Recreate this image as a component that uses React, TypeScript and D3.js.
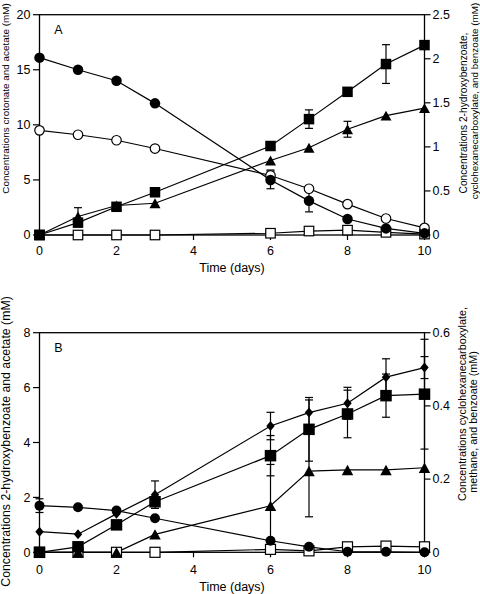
import React from "react";
import * as d3 from "d3";

// ---------- data ----------
const days = [0, 1, 2, 3, 6, 7, 8, 9, 10];
const xTicks = [0, 2, 4, 6, 8, 10];

// Panel A
const aCrotonate = [16.1, 15.0, 14.0, 11.95, 5.0, 3.1, 1.45, 0.6, 0.15];
const aCrotonateErr = [0, 0, 0, 0, 0.8, 1.0, 0, 0, 0];
const aAcetate = [9.5, 9.1, 8.6, 7.85, 5.4, 4.2, 2.8, 1.5, 0.65];
const aAcetateErr = [0, 0, 0, 0, 0.5, 0, 0, 0, 0];
const aHydroxybenzoate = [0, 0.14, 0.32, 0.485, 1.01, 1.315, 1.625, 1.94, 2.155];
const aHydroxybenzoateErr = [0, 0, 0, 0, 0, 0.105, 0, 0.22, 0];
const aCyclohexane = [0, 0.21, 0.335, 0.36, 0.845, 0.99, 1.2, 1.355, 1.44];
const aCyclohexaneErr = [0, 0.1, 0, 0, 0, 0, 0.09, 0, 0];
const aBenzoate = [0, 0, 0, 0, 0.02, 0.045, 0.055, 0.03, 0.01];

const aLeftTicks = [0, 5, 10, 15, 20];
const aRightTicks = [0, 0.5, 1, 1.5, 2, 2.5];

// Panel B
const bCircle = [1.7, 1.64, 1.52, 1.24, 0.42, 0.2, 0.02, 0.02, 0];
const bCircleErr = [0.25, 0, 0, 0, 0, 0, 0, 0, 0];
const bDiamond = [0.75, 0.66, 1.4, 2.1, 4.6, 5.09, 5.43, 6.38, 6.73];
const bDiamondErr = [0, 0, 0, 0.5, 0.5, 0.46, 0.58, 0.67, 0.4];
const bSquare = [0, 0.015, 0.075, 0.138, 0.264, 0.336, 0.378, 0.428, 0.432];
const bSquareErr = [0, 0, 0, 0, 0.055, 0.087, 0.065, 0.059, 0.15];
const bTriangle = [0, 0, 0, 0.049, 0.127, 0.222, 0.225, 0.225, 0.231];
const bTriangleErr = [0, 0, 0, 0, 0.113, 0.125, 0, 0, 0];
const bOpenSquare = [0, 0, 0, 0, 0.008, 0.004, 0.015, 0.017, 0.015];

const bLeftTicks = [0, 2, 4, 6, 8];
const bRightTicks = [0, 0.2, 0.4, 0.6];

const FONT = "'Liberation Sans', Arial, Helvetica, sans-serif";

type Marker = "circle" | "ocircle" | "square" | "osquare" | "triangle" | "diamond";

interface Series {
  values: number[];
  err?: number[];
  axis: "left" | "right";
  marker: Marker;
  size: number;
}

interface Title {
  text: string;
  x: number;
  y: number;
  size: number;
}

function markerEl(m: Marker, size: number, x: number, y: number, key: string) {
  const sw = 1.2;
  switch (m) {
    case "circle":
      return <circle key={key} cx={x} cy={y} r={size / 2} fill="#000" />;
    case "ocircle":
      return <circle key={key} cx={x} cy={y} r={size / 2} fill="#fff" stroke="#000" strokeWidth={sw} />;
    case "square":
      return <rect key={key} x={x - size / 2} y={y - size / 2} width={size} height={size} fill="#000" />;
    case "osquare":
      return (
        <rect key={key} x={x - size / 2} y={y - size / 2} width={size} height={size}
          fill="#fff" stroke="#000" strokeWidth={sw} />
      );
    case "triangle": {
      const hw = size / 2;
      const hh = size * 0.45;
      return <path key={key} d={`M${x},${y - hh}L${x + hw},${y + hh}L${x - hw},${y + hh}Z`} fill="#000" />;
    }
    case "diamond": {
      const hw = size * 0.42;
      const hh = size / 2;
      return <path key={key} d={`M${x},${y - hh}L${x + hw},${y}L${x},${y + hh}L${x - hw},${y}Z`} fill="#000" />;
    }
  }
}

interface PanelProps {
  top: number;
  bottom: number;
  leftMax: number;
  rightMax: number;
  leftTicks: number[];
  rightTicks: number[];
  series: Series[];
  label: string;
  xLabelOffset: number;
  xTitleY: number;
  titles: Title[];
}

const X0 = 39.5;
const X1 = 424.5;

function Panel(p: PanelProps) {
  const x = d3.scaleLinear().domain([0, 10]).range([X0, X1]);
  const yL = d3.scaleLinear().domain([0, p.leftMax]).range([p.bottom, p.top]);
  const yR = d3.scaleLinear().domain([0, p.rightMax]).range([p.bottom, p.top]);
  const line = (ys: d3.ScaleLinear<number, number>) =>
    d3.line<[number, number]>().x((d) => x(d[0])).y((d) => ys(d[1]));
  const fmt = (v: number) => String(v);

  return (
    <g>
      <rect x={X0} y={p.top} width={X1 - X0} height={p.bottom - p.top} fill="none" stroke="#000" strokeWidth={1.3} />
      {xTicks.map((t) => (
        <g key={"xt" + t}>
          <line x1={x(t)} x2={x(t)} y1={p.bottom} y2={p.bottom + 5} stroke="#000" strokeWidth={1.2} />
          <text x={x(t)} y={p.bottom + p.xLabelOffset} textAnchor="middle" fontSize={12.5} fontFamily={FONT}>
            {t}
          </text>
        </g>
      ))}
      <text x={(X0 + X1) / 2} y={p.xTitleY} textAnchor="middle" fontSize={12.5} fontFamily={FONT}>
        Time (days)
      </text>
      {p.leftTicks.map((t) => (
        <g key={"lt" + t}>
          <line x1={X0 - 6.5} x2={X0} y1={yL(t)} y2={yL(t)} stroke="#000" strokeWidth={1.2} />
          <text x={X0 - 9} y={yL(t)} dy="0.35em" textAnchor="end" fontSize={12.5} fontFamily={FONT}>
            {fmt(t)}
          </text>
        </g>
      ))}
      {p.rightTicks.map((t) => (
        <g key={"rt" + t}>
          <line x1={X1} x2={X1 + 6} y1={yR(t)} y2={yR(t)} stroke="#000" strokeWidth={1.2} />
          <text x={X1 + 8} y={yR(t)} dy="0.35em" textAnchor="start" fontSize={12.5} fontFamily={FONT}>
            {fmt(t)}
          </text>
        </g>
      ))}
      {p.titles.map((t, i) => (
        <text key={"tt" + i} transform={`translate(${t.x},${t.y}) rotate(-90)`}
          textAnchor="middle" fontSize={t.size} fontFamily={FONT}>
          {t.text}
        </text>
      ))}
      <text x={58.3} y={p.top + 19} textAnchor="middle" fontSize={12.5} fontFamily={FONT}>
        {p.label}
      </text>
      {p.series.map((s, i) => {
        const ys = s.axis === "left" ? yL : yR;
        const pts = days.map((d, j) => [d, s.values[j]] as [number, number]);
        return <path key={"ln" + i} d={line(ys)(pts) || ""} fill="none" stroke="#000" strokeWidth={1.2} />;
      })}
      {p.series.map((s, i) => {
        const ys = s.axis === "left" ? yL : yR;
        if (!s.err) return null;
        return (
          <g key={"eb" + i}>
            {days.map((d, j) => {
              const e = s.err![j];
              if (!e) return null;
              const cx = x(d);
              const y1 = ys(s.values[j] + e);
              const y2 = ys(s.values[j] - e);
              return (
                <g key={j}>
                  <line x1={cx} x2={cx} y1={y1} y2={y2} stroke="#000" strokeWidth={1.2} />
                  <line x1={cx - 4} x2={cx + 4} y1={y1} y2={y1} stroke="#000" strokeWidth={1.2} />
                  <line x1={cx - 4} x2={cx + 4} y1={y2} y2={y2} stroke="#000" strokeWidth={1.2} />
                </g>
              );
            })}
          </g>
        );
      })}
      {p.series.map((s, i) => {
        const ys = s.axis === "left" ? yL : yR;
        return (
          <g key={"mk" + i}>
            {days.map((d, j) => markerEl(s.marker, s.size, x(d), ys(s.values[j]), "m" + i + "_" + j))}
          </g>
        );
      })}
    </g>
  );
}

export default function App() {
  const seriesA: Series[] = [
    { values: aBenzoate, axis: "right", marker: "osquare", size: 9.5 },
    { values: aCyclohexane, err: aCyclohexaneErr, axis: "right", marker: "triangle", size: 11 },
    { values: aHydroxybenzoate, err: aHydroxybenzoateErr, axis: "right", marker: "square", size: 10.5 },
    { values: aAcetate, err: aAcetateErr, axis: "left", marker: "ocircle", size: 9.5 },
    { values: aCrotonate, err: aCrotonateErr, axis: "left", marker: "circle", size: 10.5 },
  ];
  const seriesB: Series[] = [
    { values: bOpenSquare, axis: "right", marker: "osquare", size: 10 },
    { values: bTriangle, err: bTriangleErr, axis: "right", marker: "triangle", size: 11.5 },
    { values: bSquare, err: bSquareErr, axis: "right", marker: "square", size: 11.5 },
    { values: bDiamond, err: bDiamondErr, axis: "left", marker: "diamond", size: 10 },
    { values: bCircle, err: bCircleErr, axis: "left", marker: "circle", size: 10 },
  ];
  const titlesA: Title[] = [
    { text: "Concentrations crotonate and acetate (mM)", x: 9, y: 98.5, size: 9.9 },
    { text: "Concentrations 2-hydroxybenzoate,", x: 466.5, y: 113, size: 10.2 },
    { text: "cyclohexanecarboxylate, and benzoate (mM)", x: 477.5, y: 101, size: 9.9 },
  ];
  const titlesB: Title[] = [
    { text: "Concentrations 2-hydroxybenzoate and acetate (mM)", x: 9.5, y: 441.5, size: 12.3 },
    { text: "Concentrations  cyclohexanecarboxylate,", x: 466, y: 404, size: 10.8 },
    { text: "methane, and benzoate (mM)", x: 476.5, y: 422, size: 10.8 },
  ];
  return (
    <svg width={480} height={594} style={{ position: "absolute", left: 0, top: 0, background: "#fff" }}>
      <Panel
        top={14.7}
        bottom={235}
        leftMax={20}
        rightMax={2.5}
        leftTicks={aLeftTicks}
        rightTicks={aRightTicks}
        series={seriesA}
        label="A"
        xLabelOffset={20}
        xTitleY={271.7}
        titles={titlesA}
      />
      <Panel
        top={332.7}
        bottom={552.3}
        leftMax={8}
        rightMax={0.6}
        leftTicks={bLeftTicks}
        rightTicks={bRightTicks}
        series={seriesB}
        label="B"
        xLabelOffset={21.7}
        xTitleY={590.5}
        titles={titlesB}
      />
    </svg>
  );
}
